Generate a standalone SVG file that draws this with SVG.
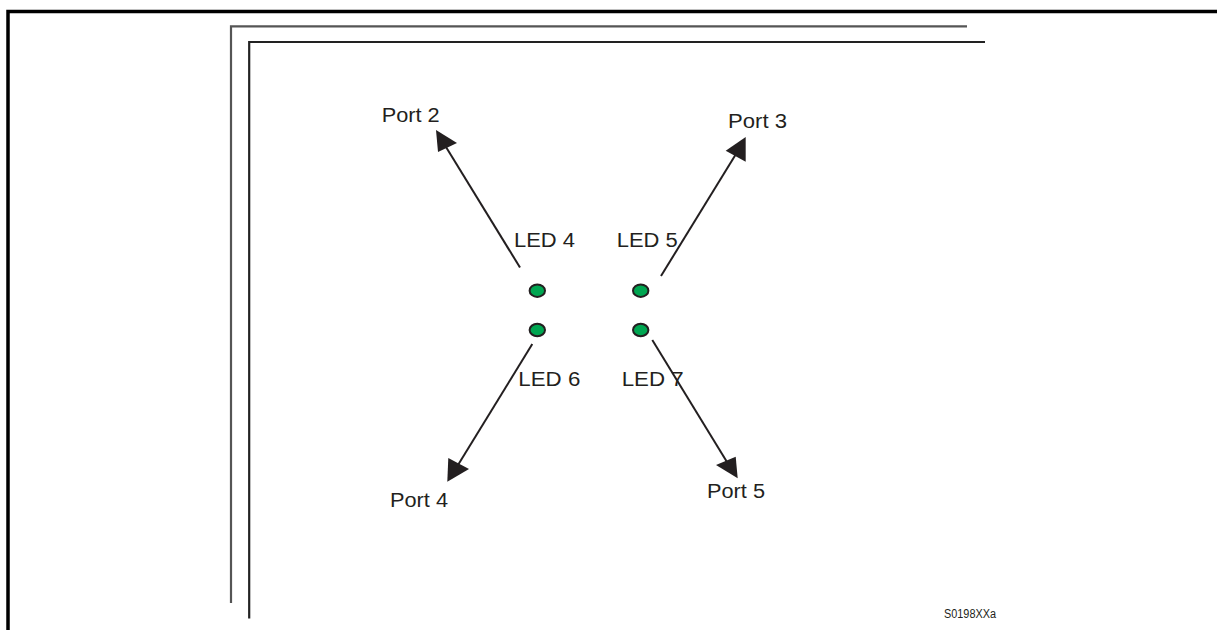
<svg xmlns="http://www.w3.org/2000/svg" width="1217" height="630" viewBox="0 0 1217 630">
<defs>
<style>
.lbl{font-family:"Liberation Sans",Arial,sans-serif;font-size:20px;fill:#231f20}
.arr{stroke:#231f20;stroke-width:2;fill:none}
.head{fill:#231f20}
.led{fill:#00a651;stroke:#231f20;stroke-width:2}
</style>
</defs>
<rect width="1217" height="630" fill="#ffffff"/>
<g id="frame" fill="none">
<polyline points="8,630 8,11.5 1217,11.5" stroke="#000" stroke-width="3.5"/>
<polyline points="231,603 231,26.3 967,26.3" stroke="#555" stroke-width="2.2"/>
<polyline points="249.2,618.5 249.2,42 985,42" stroke="#222" stroke-width="2.2"/>
</g>
<g id="connectors">
<line class="arr" x1="520" y1="267.5" x2="446" y2="147"/>
<polygon class="head" points="436,130 438,152 457,143"/>
<line class="arr" x1="661" y1="276" x2="736" y2="154"/>
<polygon class="head" points="745.7,137 725.7,150.7 745.7,161.7"/>
<line class="arr" x1="532.3" y1="344" x2="458" y2="465"/>
<polygon class="head" points="447.3,481.7 448.3,458 469,469"/>
<line class="arr" x1="652.3" y1="340" x2="727" y2="462"/>
<polygon class="head" points="737.7,478.3 716,465 735.7,456.7"/>
</g>
<g id="led4"><ellipse class="led" cx="537.3" cy="290.7" rx="7.7" ry="6.2"/><text class="lbl" x="514" y="247.3" textLength="61" lengthAdjust="spacingAndGlyphs">LED 4</text></g>
<g id="led5"><ellipse class="led" cx="640.7" cy="290.7" rx="7.7" ry="6.2"/><text class="lbl" x="616.7" y="247.3" textLength="61" lengthAdjust="spacingAndGlyphs">LED 5</text></g>
<g id="led6"><ellipse class="led" cx="537.3" cy="330" rx="7.7" ry="6.2"/><text class="lbl" x="518.3" y="386" textLength="62" lengthAdjust="spacingAndGlyphs">LED 6</text></g>
<g id="led7"><ellipse class="led" cx="640.7" cy="330" rx="7.7" ry="6.2"/><text class="lbl" x="621.7" y="386" textLength="62" lengthAdjust="spacingAndGlyphs">LED 7</text></g>
<g id="port2"><text class="lbl" x="381.7" y="122" textLength="58" lengthAdjust="spacingAndGlyphs">Port 2</text></g>
<g id="port3"><text class="lbl" x="728" y="128.3" textLength="59" lengthAdjust="spacingAndGlyphs">Port 3</text></g>
<g id="port4"><text class="lbl" x="390" y="507.3" textLength="58" lengthAdjust="spacingAndGlyphs">Port 4</text></g>
<g id="port5"><text class="lbl" x="707" y="498.3" textLength="58" lengthAdjust="spacingAndGlyphs">Port 5</text></g>
<g id="code"><text x="944" y="618" font-family="Liberation Sans Narrow,Liberation Sans,Arial,sans-serif" font-size="12" fill="#231f20" textLength="52" lengthAdjust="spacingAndGlyphs">S0198XXa</text></g>
</svg>
